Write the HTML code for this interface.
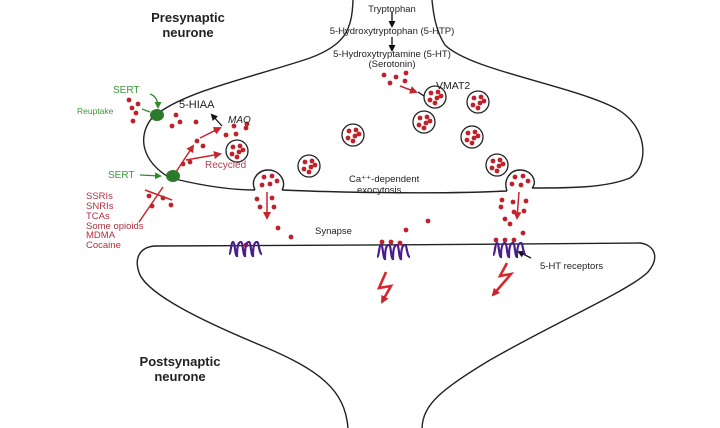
<!DOCTYPE html>
<html><head><style>
html,body{margin:0;padding:0;background:#fff;}
svg{display:block;}
text{font-family:"Liberation Sans",sans-serif;}
</style></head><body>
<svg width="720" height="428" viewBox="0 0 720 428" xmlns="http://www.w3.org/2000/svg">
<defs>
<marker id="ab" markerUnits="userSpaceOnUse" markerWidth="7" markerHeight="7" refX="5" refY="3.5" orient="auto"><path d="M0,0 L7,3.5 L0,7 z" fill="#111"/></marker>
<marker id="ar" markerUnits="userSpaceOnUse" markerWidth="8" markerHeight="8" refX="6" refY="4" orient="auto"><path d="M0,0 L8,4 L0,8 z" fill="#c8252b"/></marker>
<marker id="ag" markerUnits="userSpaceOnUse" markerWidth="7" markerHeight="7" refX="5" refY="3.5" orient="auto"><path d="M0,0 L7,3.5 L0,7 z" fill="#2e8b2e"/></marker>
<g id="ves"><circle r="11" fill="#fff" stroke="#222" stroke-width="1.3"/><circle cx="-4" cy="-4" r="2.4" fill="#c0202a"/><circle cx="3" cy="-5" r="2.4" fill="#c0202a"/><circle cx="-5" cy="3" r="2.4" fill="#c0202a"/><circle cx="2" cy="1" r="2.4" fill="#c0202a"/><circle cx="6" cy="-1" r="2.4" fill="#c0202a"/><circle cx="0" cy="6" r="2.4" fill="#c0202a"/></g>
<path id="rec" d="M0,6 c2,0 2,-12 4,-12 c2,0 2,14 4,14 c0,-14 3,-14 4,-14 c2,0 2,14 4,14 c0,-14 3,-14 4,-14 c2,0 2,14 4,14 c0,-14 3,-14 4,-14 c2,0 2,12 5,12" fill="none" stroke="#4a1d8c" stroke-width="2.2"/>
</defs>
<g fill="none" stroke="#222" stroke-width="1.4">
<path d="M353,0 C352,30 345,45 310,58 C260,75 190,90 160,112"/>
<path d="M152,118 C138,135 140,160 170,178"/>
<path d="M175,179 C200,185 230,190 255,190"/>
<path d="M282,190 C350,193 450,194 507,191"/>
<path d="M532,188 C570,188 605,188 630,178 C650,165 648,125 615,108 C570,85 470,70 445,45 C435,30 433,10 432,0"/>
<path d="M255,190 C250,180 258,170 268,170 C280,170 287,182 282,190"/>
<path d="M507,191 C503,180 510,170 520,170 C532,170 538,182 532,188"/>
<path d="M348,428 C345,390 320,370 260,345 C200,320 150,295 140,275 C133,258 140,247 155,246 C300,246 500,244 640,243 C655,245 660,258 648,272 C630,290 560,320 490,360 C440,390 423,405 422,428"/>
</g>
<use href="#ves" x="435" y="97"/><use href="#ves" x="478" y="102"/><use href="#ves" x="424" y="122"/>
<use href="#ves" x="353" y="135"/><use href="#ves" x="472" y="137"/><use href="#ves" x="309" y="166"/>
<use href="#ves" x="497" y="165"/><use href="#ves" x="237" y="151"/>
<g fill="#c0202a">
<circle cx="264" cy="177" r="2.4"/><circle cx="272" cy="176" r="2.4"/><circle cx="262" cy="185" r="2.4"/><circle cx="270" cy="184" r="2.4"/><circle cx="277" cy="181" r="2.4"/>
<circle cx="515" cy="177" r="2.4"/><circle cx="523" cy="176" r="2.4"/><circle cx="512" cy="184" r="2.4"/><circle cx="521" cy="185" r="2.4"/><circle cx="528" cy="181" r="2.4"/>
<circle cx="257" cy="199" r="2.4"/><circle cx="272" cy="198" r="2.4"/><circle cx="260" cy="207" r="2.4"/><circle cx="274" cy="207" r="2.4"/><circle cx="278" cy="228" r="2.4"/><circle cx="291" cy="237" r="2.4"/>
<circle cx="406" cy="230" r="2.4"/><circle cx="428" cy="221" r="2.4"/>
<circle cx="502" cy="200" r="2.4"/><circle cx="513" cy="202" r="2.4"/><circle cx="526" cy="201" r="2.4"/><circle cx="501" cy="207" r="2.4"/><circle cx="514" cy="212" r="2.4"/><circle cx="524" cy="211" r="2.4"/>
<circle cx="505" cy="219" r="2.4"/><circle cx="510" cy="224" r="2.4"/><circle cx="523" cy="233" r="2.4"/>
<circle cx="246" cy="245" r="2.4"/><circle cx="382" cy="242" r="2.4"/><circle cx="391" cy="242" r="2.4"/><circle cx="400" cy="243" r="2.4"/>
<circle cx="496" cy="240" r="2.4"/><circle cx="505" cy="240" r="2.4"/><circle cx="514" cy="240" r="2.4"/>
<circle cx="384" cy="75" r="2.4"/><circle cx="396" cy="77" r="2.4"/><circle cx="406" cy="73" r="2.4"/><circle cx="390" cy="83" r="2.4"/><circle cx="405" cy="81" r="2.4"/>
<circle cx="129" cy="100" r="2.4"/><circle cx="138" cy="104" r="2.4"/><circle cx="132" cy="108" r="2.4"/><circle cx="136" cy="113" r="2.4"/><circle cx="133" cy="121" r="2.4"/>
<circle cx="176" cy="115" r="2.4"/><circle cx="172" cy="126" r="2.4"/><circle cx="180" cy="122" r="2.4"/><circle cx="196" cy="122" r="2.4"/>
<circle cx="216" cy="130" r="2.4"/><circle cx="226" cy="135" r="2.4"/><circle cx="234" cy="126" r="2.4"/><circle cx="246" cy="128" r="2.4"/><circle cx="236" cy="134" r="2.4"/><circle cx="247" cy="124" r="2.4"/>
<circle cx="197" cy="141" r="2.4"/><circle cx="203" cy="146" r="2.4"/><circle cx="190" cy="162" r="2.4"/><circle cx="183" cy="164" r="2.4"/>
<circle cx="149" cy="196" r="2.4"/><circle cx="163" cy="198" r="2.4"/><circle cx="152" cy="206" r="2.4"/><circle cx="171" cy="205" r="2.4"/>
</g>
<g stroke="#111" stroke-width="1.3" fill="none">
<line x1="392" y1="12" x2="392" y2="26" marker-end="url(#ab)"/>
<line x1="392" y1="37" x2="392" y2="50" marker-end="url(#ab)"/>
<line x1="222" y1="126" x2="212" y2="115" marker-end="url(#ab)"/>
<line x1="531" y1="258" x2="519" y2="252" marker-end="url(#ab)"/>
<path d="M424,96 L418,92"/>
</g>
<g stroke="#c8252b" stroke-width="1.5" fill="none">
<line x1="400" y1="86" x2="416" y2="92" marker-end="url(#ar)"/>
<line x1="267" y1="192" x2="267" y2="218" marker-end="url(#ar)"/>
<line x1="519" y1="192" x2="517" y2="218" marker-end="url(#ar)"/>
<line x1="176" y1="172" x2="193" y2="146" marker-end="url(#ar)"/>
<line x1="186" y1="160" x2="220" y2="154" marker-end="url(#ar)"/>
<line x1="200" y1="138" x2="220" y2="128" marker-end="url(#ar)"/>
<line x1="139" y1="222" x2="163" y2="187"/>
<line x1="145" y1="190" x2="172" y2="200"/>
</g>
<g stroke="#d8282e" stroke-width="2.6" fill="none" stroke-linejoin="miter">
<path d="M386,272 L379,288 L391,286 L382,302" marker-end="url(#ar)"/>
<path d="M507,263 L500,276 L511,274 L493,295" marker-end="url(#ar)"/>
</g>
<g stroke="#2e8b2e" stroke-width="1.3" fill="none">
<path d="M150,94 C156,96 158,101 158,107" marker-end="url(#ag)"/>
<line x1="142" y1="109" x2="150" y2="112"/>
<line x1="140" y1="175" x2="160" y2="176" marker-end="url(#ag)"/>
</g>
<ellipse cx="157" cy="115" rx="7" ry="6" fill="#2b7a2b"/>
<ellipse cx="173" cy="176" rx="7" ry="6" fill="#2b7a2b"/>
<use href="#rec" x="229" y="248"/><use href="#rec" x="377" y="251"/><use href="#rec" x="493" y="249"/>
<g font-size="13" font-weight="bold" fill="#222" text-anchor="middle">
<text x="188" y="22">Presynaptic</text><text x="188" y="37">neurone</text>
<text x="180" y="366">Postsynaptic</text><text x="180" y="381">neurone</text>
</g>
<g font-size="9.5" fill="#222">
<text x="392" y="12" text-anchor="middle">Tryptophan</text>
<text x="392" y="34" text-anchor="middle">5-Hydroxytryptophan (5-HTP)</text>
<text x="392" y="57" text-anchor="middle">5-Hydroxytryptamine (5-HT)</text>
<text x="392" y="67" text-anchor="middle">(Serotonin)</text>
<text x="349" y="182">Ca⁺⁺-dependent</text>
<text x="357" y="193">exocytosis</text>
<text x="315" y="234">Synapse</text>
<text x="540" y="269">5-HT receptors</text>
</g>
<text x="436" y="89" font-size="10.5" fill="#222">VMAT2</text>
<text x="179" y="108" font-size="11" fill="#222">5-HIAA</text>
<text x="228" y="123" font-size="10" font-style="italic" fill="#222">MAO</text>
<text x="205" y="168" font-size="10" fill="#b04050" font-family="Liberation Serif">Recycled</text>
<g fill="#3a9a3a"><text x="113" y="93" font-size="10">SERT</text><text x="77" y="114" font-size="8.5">Reuptake</text><text x="108" y="178" font-size="10">SERT</text></g>
<g fill="#b23040" font-size="9.5">
<text x="86" y="199">SSRIs</text><text x="86" y="209">SNRIs</text><text x="86" y="219">TCAs</text><text x="86" y="229">Some opioids</text><text x="86" y="238">MDMA</text><text x="86" y="248">Cocaine</text>
</g>
</svg>
</body></html>
